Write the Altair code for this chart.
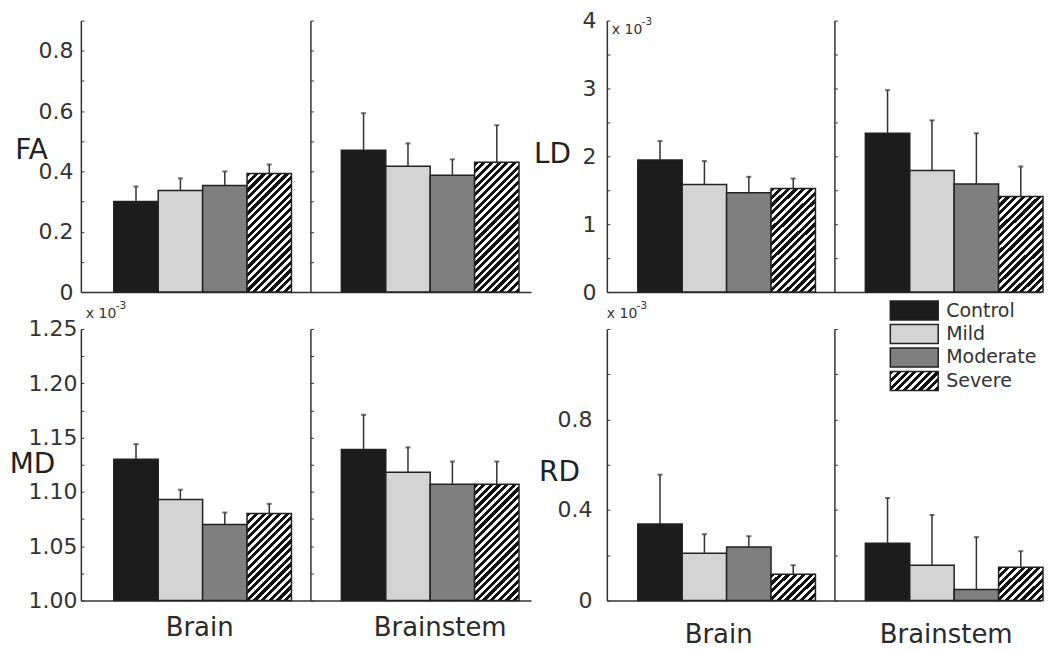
import altair as alt
import pandas as pd

# ---------------- data ----------------
groups = ["Control", "Mild", "Moderate", "Severe"]
regions = ["Brain", "Brainstem"]

fa_brain_mean = [0.300, 0.337, 0.353, 0.393]
fa_brain_err = [0.050, 0.040, 0.047, 0.030]
fa_stem_mean = [0.470, 0.417, 0.387, 0.430]
fa_stem_err = [0.123, 0.076, 0.053, 0.123]

ld_brain_mean = [1.945, 1.585, 1.462, 1.526]
ld_brain_err = [0.280, 0.345, 0.236, 0.147]
ld_stem_mean = [2.340, 1.790, 1.593, 1.407]
ld_stem_err = [0.635, 0.740, 0.747, 0.443]

md_brain_mean = [1.130, 1.093, 1.070, 1.080]
md_brain_err = [0.014, 0.009, 0.011, 0.009]
md_stem_mean = [1.139, 1.118, 1.107, 1.107]
md_stem_err = [0.032, 0.023, 0.021, 0.021]

rd_brain_mean = [0.338, 0.209, 0.236, 0.116]
rd_brain_err = [0.218, 0.084, 0.048, 0.040]
rd_stem_mean = [0.253, 0.156, 0.049, 0.147]
rd_stem_err = [0.200, 0.222, 0.231, 0.071]

fa_labels = [0, 0.2, 0.4, 0.6, 0.8]
fa_ticks = [0, 0.1, 0.2, 0.3, 0.4, 0.5, 0.6, 0.7, 0.8, 0.9]
ld_labels = [0, 1, 2, 3, 4]
ld_ticks = [0, 0.5, 1, 1.5, 2, 2.5, 3, 3.5, 4]
md_labels = [1.00, 1.05, 1.10, 1.15, 1.20, 1.25]
md_ticks = [1.000, 1.025, 1.050, 1.075, 1.100, 1.125, 1.150, 1.175, 1.200, 1.225, 1.250]
rd_labels = [0, 0.4, 0.8]
rd_ticks = [0, 0.2, 0.4, 0.6, 0.8, 1.0, 1.2]

# ---------------- styles ----------------
FONT = "DejaVu Sans"
bar_colors = ["#1c1c1c", "#d4d4d4", "#7f7f7f", "#ffffff"]
AX = "#333333"
H = 272

# geometry of each Brain/Brainstem pair: width, left gap, band step, band width, brainstem axis position
GEOM_L = dict(W=451, L=33, S=228, B=178, stem=230)
GEOM_R = dict(W=435, L=31, S=228, B=176, stem=228)


def hatch(w, h, period=7.7, ink=0.55):
    total = w + h
    stops = []
    pos = 0.0
    while pos < total - 1e-9:
        a = pos / total
        b = min((pos + ink * period) / total, 1.0)
        c = min((pos + period) / total, 1.0)
        stops += [
            {"offset": round(a, 5), "color": "#111111"},
            {"offset": round(b, 5), "color": "#111111"},
            {"offset": round(b, 5), "color": "#ffffff"},
            {"offset": round(c, 5), "color": "#ffffff"},
        ]
        pos += period
    s = total / (w * w + h * h)
    return {"gradient": "linear", "x1": 0, "y1": 0, "x2": w * s, "y2": h * s, "stops": stops}


dummy = pd.DataFrame({"k": [0]})


def text_layer(txt, x, y, size, align="left", color="#333333"):
    return alt.Chart(dummy).mark_text(
        text=txt, font=FONT, fontSize=size, align=align, baseline="middle", color=color
    ).encode(x=alt.value(x), y=alt.value(y))


def make_pair(mb, eb, ms, es, ymin, ymax, labs, ticks, label_expr, title, tx, ty,
              lpad, geom, bottom, xpad, xoff_cond, extras):
    W, L, S, B, stem = geom["W"], geom["L"], geom["S"], geom["B"], geom["stem"]
    pi = 1 - B / S
    po = (W / S - 2 + pi) / 2
    al = L / (W - S - B)

    rows = []
    for reg, means, errs in [("Brain", mb, eb), ("Brainstem", ms, es)]:
        for g, m, e in zip(groups, means, errs):
            rows.append({"region": reg, "group": g, "mean": m, "top": m + e})
    df = pd.DataFrame(rows)

    xaxis = alt.Axis(
        orient="bottom", domain=True, domainColor=AX, domainWidth=1.5, ticks=False,
        labels=bottom, labelFont=FONT, labelFontSize=26, labelColor="#2a2a2a",
        labelPadding=xpad, labelBaseline="middle", labelAngle=0,
        labelOffset=xoff_cond, grid=False, title=None,
    )
    xenc = alt.X("region:N", title=None, axis=xaxis,
                 scale=alt.Scale(domain=regions, paddingInner=pi, paddingOuter=po, align=al))
    xoff = alt.XOffset("group:N", scale=alt.Scale(domain=groups, paddingInner=0, paddingOuter=0))
    yscale = alt.Scale(domain=[ymin, ymax], nice=False, zero=False)

    label_axis = alt.Axis(
        orient="left", values=labs, ticks=False, tickSize=0, domain=False, grid=False,
        labelFont=FONT, labelFontSize=22, labelColor="#333333", labelPadding=lpad,
        labelExpr=label_expr, labelOverlap=False, labelFlush=False,
        title=title, titleAngle=0, titleX=tx, titleY=ty, titleAlign="center",
        titleBaseline="middle", titleFont=FONT, titleFontSize=28, titleFontWeight="normal",
        titleColor="#222222",
    )
    tick_axis = alt.Axis(
        orient="right", offset=-W, values=ticks, labels=False, ticks=True, tickSize=3,
        tickColor=AX, tickWidth=1, domain=True, domainColor=AX, domainWidth=1.5,
        grid=False, title=None,
    )
    stem_axis = alt.Axis(
        orient="right", offset=-(W - stem), values=ticks, labels=False, ticks=True, tickSize=3,
        tickColor=AX, tickWidth=1, domain=True, domainColor=AX, domainWidth=1.5,
        grid=False, title=None,
    )

    bar_w = B / 4
    conds = []
    for reg, m in [("Brain", mb[3]), ("Brainstem", ms[3])]:
        h = H * (m - ymin) / (ymax - ymin)
        conds.append({"test": f"datum.region === '{reg}' && datum.group === 'Severe'",
                      "value": hatch(bar_w, h)})
    fill = alt.Fill("group:N", scale=alt.Scale(domain=groups, range=bar_colors),
                    legend=None, condition=conds)

    bars = alt.Chart(df).mark_bar(stroke="#222222", strokeWidth=1.5).encode(
        x=xenc, xOffset=xoff,
        y=alt.Y("mean:Q", scale=yscale, axis=label_axis),
        y2=alt.Y2(datum=ymin),
        fill=fill,
    )
    rules = alt.Chart(df).mark_rule(color=AX, strokeWidth=1.5).encode(
        x=xenc, xOffset=xoff,
        y=alt.Y("mean:Q", scale=yscale, axis=tick_axis),
        y2="top:Q",
    )
    caps = alt.Chart(df).mark_tick(color=AX, thickness=2, size=5, orient="horizontal").encode(
        x=xenc, xOffset=xoff,
        y=alt.Y("top:Q", scale=yscale, axis=stem_axis),
    )
    return alt.layer(bars, rules, caps, *extras).resolve_axis(y="independent").properties(
        width=W, height=H
    )


one_dec = "datum.value == 0 ? '0' : format(datum.value, '.1f')"

fa = make_pair(fa_brain_mean, fa_brain_err, fa_stem_mean, fa_stem_err, 0, 0.9,
               fa_labels, fa_ticks, one_dec, "FA", -50, 130, 8, GEOM_L, False, 20, 0, [])

ld_extras = [text_layer("x 10", 5, 9, 14), text_layer("-3", 35, 1, 10.5)]
ld = make_pair(ld_brain_mean, ld_brain_err, ld_stem_mean, ld_stem_err, 0, 4,
               ld_labels, ld_ticks, "format(datum.value, 'd')", "LD", -55, 134, 11,
               GEOM_R, False, 20, 0, ld_extras)

md_extras = [text_layer("x 10", 5, -15, 14), text_layer("-3", 35, -23, 10.5)]
md = make_pair(md_brain_mean, md_brain_err, md_stem_mean, md_stem_err, 1.0, 1.25,
               md_labels, md_ticks, "format(datum.value, '.2f')", "MD", -49, 136, 4,
               GEOM_L, True, 27,
               {"condition": {"test": "datum.value === 'Brain'", "value": -3}, "value": 10},
               md_extras)

# legend (drawn in the RD panel)
leg = []
for i, g in enumerate(groups):
    top = -28 + 23.5 * i
    if g == "Severe":
        fcol = hatch(48, 19)
    else:
        fcol = bar_colors[i]
    leg.append(
        alt.Chart(dummy).mark_rect(fill=fcol, stroke="#222222", strokeWidth=1.5).encode(
            x=alt.value(284), x2=alt.value(332), y=alt.value(top), y2=alt.value(top + 19)
        )
    )
    leg.append(text_layer(g, 340, top + 9.5, 19))

rd_extras = [text_layer("x 10", 0, -15, 14), text_layer("-3", 30, -23, 10.5)] + leg
rd = make_pair(rd_brain_mean, rd_brain_err, rd_stem_mean, rd_stem_err, 0, 1.2,
               rd_labels, rd_ticks, one_dec, "RD", -48, 144, 15,
               GEOM_R, True, 34, -7, rd_extras)

chart = alt.concat(
    fa, ld, md, rd, columns=2, spacing={"row": 37, "column": 76}, bounds="flush"
).configure_view(stroke=None).properties(
    padding={"left": 1, "top": 1, "right": 0, "bottom": 0}, background="white"
)

chart.save("out.html", embed_options={"renderer": "svg", "actions": False})
